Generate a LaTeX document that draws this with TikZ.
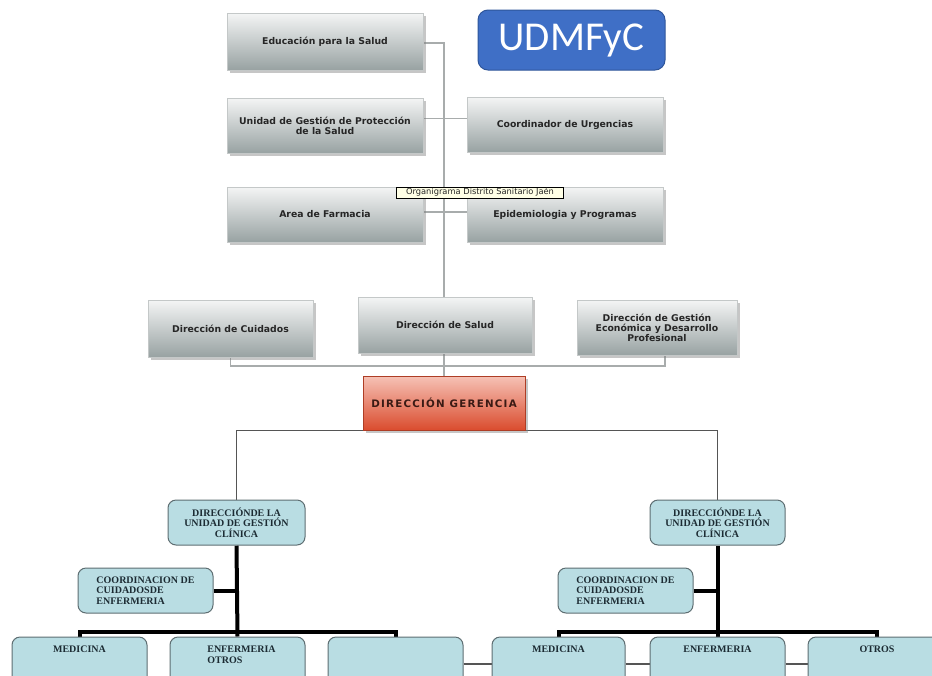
\documentclass[tikz,border=0pt]{standalone}
\usepackage{fontspec}
\setmainfont{DejaVu Sans}
\newfontfamily\serifface{Liberation Serif}
\newfontfamily\udmface{Carlito}
\usetikzlibrary{shadows}
\pgfdeclarelayer{bg}
\pgfsetlayers{bg,main}
\definecolor{grayTop}{HTML}{F4F5F5}
\definecolor{grayBot}{HTML}{98A2A2}
\definecolor{grayEdge}{HTML}{C4C8C8}
\definecolor{redTop}{HTML}{F6C2B6}
\definecolor{redBot}{HTML}{DA4C2E}
\definecolor{redText}{HTML}{3A1A14}
\definecolor{udmBlue}{HTML}{3F6FC6}
\definecolor{udmEdge}{HTML}{2E559A}
\definecolor{tipFill}{HTML}{FFFFE6}
\definecolor{blueFill}{HTML}{B9DDE3}
\definecolor{blueEdge}{HTML}{5E6E72}
\definecolor{serifText}{HTML}{1C2B33}
\definecolor{lineLight}{HTML}{A8ACAC}
\definecolor{lineDark}{HTML}{555555}
\tikzset{
  gbox/.style={draw=grayEdge, line width=0.6pt, top color=grayTop, bottom color=grayBot,
    drop shadow={shadow xshift=2.5pt, shadow yshift=-2.5pt, opacity=0.45},
    font=\fontsize{9.3}{10}\selectfont\bfseries, text=black!85, align=center, inner sep=2pt},
  redbox/.style={draw=redBot!80!black, line width=0.4pt, top color=redTop, bottom color=redBot,
    drop shadow={shadow xshift=2.5pt, shadow yshift=-2.5pt, opacity=0.45},
    font=\fontsize{10.3}{12}\selectfont\bfseries\addfontfeature{LetterSpace=12}, text=redText},
  udmbox/.style={draw=udmEdge, line width=1pt, fill=udmBlue, rounded corners=10pt,
    font=\udmface\fontsize{41}{44}\selectfont, text=white},
  tipbox/.style={draw=black, line width=0.6pt, fill=tipFill, inner sep=1.2pt,
    font=\fontsize{8.3}{8.5}\selectfont, text=black!85},
  bbox/.style={draw=blueEdge, line width=1pt, fill=blueFill, rounded corners=8pt,
    font=\serifface\bfseries\fontsize{10}{10.5}\selectfont, text=serifText, align=center, inner sep=1pt},
  toptext/.style={anchor=north, yshift=-9pt, font=\serifface\bfseries\fontsize{10}{11}\selectfont,
    text=serifText, align=left, inner sep=0pt},
  lightline/.style={draw=lineLight, line width=1.1pt},
  darkline/.style={draw=lineDark, line width=1.2pt},
  thickline/.style={draw=black, line width=4pt},
}
\begin{document}
\begin{tikzpicture}[x=1pt,y=-1pt]
\useasboundingbox (0,0) rectangle (932,675);
\clip (0,0) rectangle (932,675);

% top section
\node[gbox, minimum width=196, minimum height=57] (edu) at (325,41.5) {Educación para la Salud};
\node[udmbox, minimum width=187, minimum height=60] (udm) at (571.5,40) {UDMFyC};
\node[gbox, minimum width=196, minimum height=55] (unidad) at (325,125.5) {Unidad de Gestión de Protección\\de la Salud};
\node[gbox, minimum width=196, minimum height=55] (urg) at (565,124.5) {Coordinador de Urgencias};
\node[gbox, minimum width=196, minimum height=55] (farm) at (325,214.5) {Area de Farmacia};
\node[gbox, minimum width=196, minimum height=55] (epi) at (565,214.5) {Epidemiologia y Programas};

% middle row
\node[gbox, minimum width=165, minimum height=57] (cuid) at (230.5,328.5) {Dirección de Cuidados};
\node[gbox, minimum width=174, minimum height=56] (salud) at (445,325) {Dirección de Salud};
\node[gbox, minimum width=160, minimum height=55] (gest) at (657,327.5) {Dirección de Gestión\\Económica y Desarrollo\\Profesional};

% gerencia
\node[redbox, minimum width=162, minimum height=54] (ger) at (444,403) {DIRECCIÓN GERENCIA};

% bottom section
\node[bbox, minimum width=137, minimum height=45] (dugcL) at (236.5,522.5) {DIRECCIÓNDE LA\\UNIDAD DE GESTIÓN\\CLÍNICA};
\node[bbox, minimum width=135, minimum height=45] (dugcR) at (717.5,522.5) {DIRECCIÓNDE LA\\UNIDAD DE GESTIÓN\\CLÍNICA};
\node[bbox, minimum width=135, minimum height=45, align=left] (coordL) at (145.5,590.5) {COORDINACION DE\\CUIDADOSDE\\ENFERMERIA};
\node[bbox, minimum width=135, minimum height=45, align=left] (coordR) at (625.5,590.5) {COORDINACION DE\\CUIDADOSDE\\ENFERMERIA};

\node[bbox, minimum width=135, minimum height=54, label={[toptext]north:MEDICINA}] (medL) at (79.5,664) {};
\node[bbox, minimum width=135, minimum height=54, label={[toptext, xshift=4pt]north:ENFERMERIA\\OTROS}] (enfL) at (237.5,664) {};
\node[bbox, minimum width=135, minimum height=54] (thirdL) at (395.5,664) {};
\node[bbox, minimum width=133, minimum height=54, label={[toptext]north:MEDICINA}] (medR) at (558.5,664) {};
\node[bbox, minimum width=135, minimum height=54, label={[toptext]north:ENFERMERIA}] (enfR) at (717.5,664) {};
\node[bbox, minimum width=138, minimum height=54, label={[toptext]north:OTROS}] (otrosR) at (877,664) {};

\coordinate (midrow) at (445,366);

% tooltip on top
\node[tipbox, minimum width=167, minimum height=11] (tip) at (480,192.5) {Organigrama Distrito Sanitario Jaén};

\begin{pgfonlayer}{bg}
  \draw[lightline] ([yshift=-1.5pt]edu.east) -| (ger.north);
  \draw[lightline] ([yshift=7pt]unidad.east) -- ([yshift=7pt]unidad.east -| urg.west);
  \draw[lightline] ([yshift=2.5pt]farm.east) -- ([yshift=2.5pt]farm.east -| epi.west);
  \draw[lightline] (cuid.south) |- (midrow) -| ([xshift=8pt]gest.south);
  \draw[darkline] (dugcL.north) |- (ger.south) -| (dugcR.north);
  \draw[darkline] (thirdL.east) -- (medR.west);
  \draw[darkline] (medR.east) -- (enfR.west);
  \draw[darkline] (enfR.east) -- (otrosR.west);
  % thick black tree, left
  \draw[thickline] (dugcL.south) -- (enfL.north);
  \draw[thickline] (coordL.east) -- (coordL.east -| dugcL.south);
  \draw[thickline] (medL.north) -- ++(0,-5) -| (thirdL.north);
  % thick black tree, right
  \draw[thickline] (dugcR.south) -- (enfR.north);
  \draw[thickline] (coordR.east) -- (coordR.east -| dugcR.south);
  \draw[thickline] (medR.north) -- ++(0,-5) -| (otrosR.north);
\end{pgfonlayer}
\end{tikzpicture}
\end{document}
